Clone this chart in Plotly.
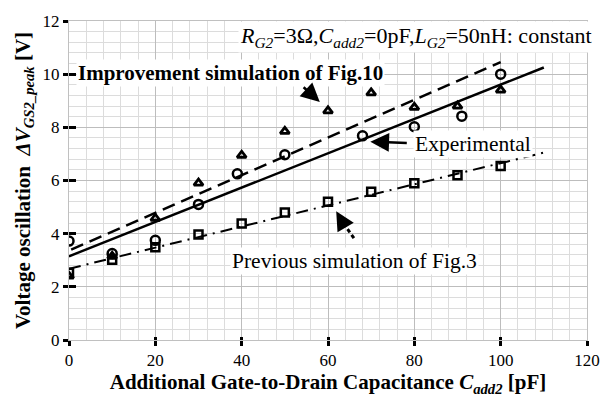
import plotly.graph_objects as go

# ---- data ----
exp_x = [0, 10, 20, 30, 39, 50, 68, 80, 91, 100]
exp_y = [3.72, 3.25, 3.75, 5.1, 6.25, 6.97, 7.68, 8.02, 8.42, 10.0]

imp_x = [0, 10, 20, 30, 40, 50, 60, 70, 80, 90, 100]
imp_y = [2.4, 3.15, 4.58, 5.9, 6.95, 7.85, 8.62, 9.3, 8.75, 8.8, 9.4]

prev_x = [0, 10, 20, 30, 40, 50, 60, 70, 80, 90, 100]
prev_y = [2.53, 3.02, 3.49, 3.97, 4.38, 4.8, 5.2, 5.58, 5.9, 6.2, 6.55]

fit_exp_x = [0, 110]
fit_exp_y = [3.15, 10.25]
fit_imp_x = [0.5, 100]
fit_imp_y = [3.4, 10.45]
fit_prev_x = [0, 110]
fit_prev_y = [2.68, 7.05]

x_ticks = [0, 20, 40, 60, 80, 100, 120]
y_ticks = [0, 2, 4, 6, 8, 10, 12]

SERIF = "Liberation Serif, Times New Roman, serif"
BLK = "black"

fig = go.Figure()

# fit lines
fig.add_trace(go.Scatter(x=fit_imp_x, y=fit_imp_y, mode="lines",
                         line=dict(color=BLK, width=2.5, dash="13px,7px"),
                         hoverinfo="skip"))
fig.add_trace(go.Scatter(x=fit_exp_x, y=fit_exp_y, mode="lines",
                         line=dict(color=BLK, width=2.5), hoverinfo="skip"))
fig.add_trace(go.Scatter(x=fit_prev_x, y=fit_prev_y, mode="lines",
                         line=dict(color=BLK, width=2, dash="12px,6px,2px,6px"),
                         hoverinfo="skip"))

# markers
fig.add_trace(go.Scatter(x=imp_x, y=imp_y, mode="markers",
                         marker=dict(symbol="triangle-up-open", size=8, color=BLK,
                                     line=dict(width=2.8, color=BLK))))
fig.add_trace(go.Scatter(x=exp_x, y=exp_y, mode="markers",
                         marker=dict(symbol="circle-open", size=9, color=BLK,
                                     line=dict(width=2.5, color=BLK))))
fig.add_trace(go.Scatter(x=prev_x, y=prev_y, mode="markers",
                         marker=dict(symbol="square-open", size=8, color=BLK,
                                     line=dict(width=2.5, color=BLK))))

# dummy trace for overlay axes (inside tick marks)
fig.add_trace(go.Scatter(x=[0], y=[0], xaxis="x2", yaxis="y2", mode="markers",
                         marker=dict(opacity=0), hoverinfo="skip"))

axis_common = dict(showline=True, mirror=True, linecolor="#c0c0c0", linewidth=1,
                   gridcolor="#bdbdbd", gridwidth=1, zeroline=False,
                   ticks="outside", ticklen=5, tickwidth=3, tickcolor=BLK,
                   tickfont=dict(family=SERIF, size=17, color=BLK))

fig.update_layout(
    width=612, height=401,
    margin=dict(l=69, r=12, t=15, b=51),
    paper_bgcolor="white", plot_bgcolor="white",
    showlegend=False,
    font=dict(family=SERIF, color=BLK),
    xaxis=dict(range=[0, 120], tickvals=x_ticks, ticktext=[str(v) for v in x_ticks],
               minor=dict(dtick=4, tick0=0, showgrid=True, gridcolor="#dcdcdc", gridwidth=1),
               title=dict(text="Additional Gate-to-Drain Capacitance <i>C</i><sub><i>add2</i></sub> [pF]",
                          font=dict(family=SERIF, size=21, color=BLK, weight="bold"), standoff=4),
               **axis_common),
    yaxis=dict(range=[0, 12], tickvals=y_ticks, ticktext=[str(v) for v in y_ticks],
               minor=dict(dtick=0.4, tick0=0, showgrid=True, gridcolor="#dcdcdc", gridwidth=1),
               title=dict(text="Voltage oscillation  <i>ΔV</i><sub><i>GS2_peak</i></sub> [V]",
                          font=dict(family=SERIF, size=21, color=BLK, weight="bold"), standoff=6),
               **axis_common),
    xaxis2=dict(overlaying="x", anchor="y", side="bottom", range=[0, 120],
                tickvals=x_ticks, showticklabels=False, showgrid=False, zeroline=False,
                ticks="inside", ticklen=3, tickwidth=3, tickcolor=BLK),
    yaxis2=dict(overlaying="y", anchor="x", side="left", range=[0, 12],
                tickvals=y_ticks, showticklabels=False, showgrid=False, zeroline=False,
                ticks="inside", ticklen=7, tickwidth=3, tickcolor=BLK),
)

# text annotations
fig.add_annotation(x=39.2, y=11.41, xref="x", yref="y", xanchor="left", yanchor="middle",
                   text="<i>R</i><sub><i>G2</i></sub>=3Ω,<i>C</i><sub><i>add2</i></sub>=0pF,"
                        "<i>L</i><sub><i>G2</i></sub>=50nH: constant",
                   showarrow=False, bgcolor="white",
                   font=dict(family=SERIF, size=22, color=BLK))
fig.add_annotation(x=1.6, y=10.06, xref="x", yref="y", xanchor="left", yanchor="middle",
                   text="<b>Improvement simulation of Fig.10</b>",
                   showarrow=False, bgcolor="white",
                   font=dict(family=SERIF, size=21, color=BLK))
fig.add_annotation(x=79.6, y=7.36, xref="x", yref="y", xanchor="left", yanchor="middle",
                   text="Experimental", showarrow=False, bgcolor="white",
                   font=dict(family=SERIF, size=21.5, color=BLK))
fig.add_annotation(x=37.4, y=2.99, xref="x", yref="y", xanchor="left", yanchor="middle",
                   text="Previous simulation of Fig.3", showarrow=False, bgcolor="white",
                   font=dict(family=SERIF, size=21.5, color=BLK))

# arrows
arrow_style = dict(xref="x", yref="y", axref="x", ayref="y", text="", showarrow=True,
                   arrowhead=2, arrowsize=1.5, arrowwidth=2.5, arrowcolor=BLK, standoff=0)
fig.add_annotation(x=58.1, y=8.95, ax=54.0, ay=9.56, **arrow_style)
fig.add_annotation(x=69.8, y=7.46, ax=78.6, ay=7.41, **arrow_style)
fig.add_annotation(x=61.9, y=4.84, ax=63.3, ay=4.45, **arrow_style)
fig.add_shape(type="line", xref="x", yref="y", x0=66.0, y0=3.83, x1=63.3, y1=4.45,
              line=dict(color=BLK, width=3, dash="4px,3px"))

fig.write_html("out.html")
